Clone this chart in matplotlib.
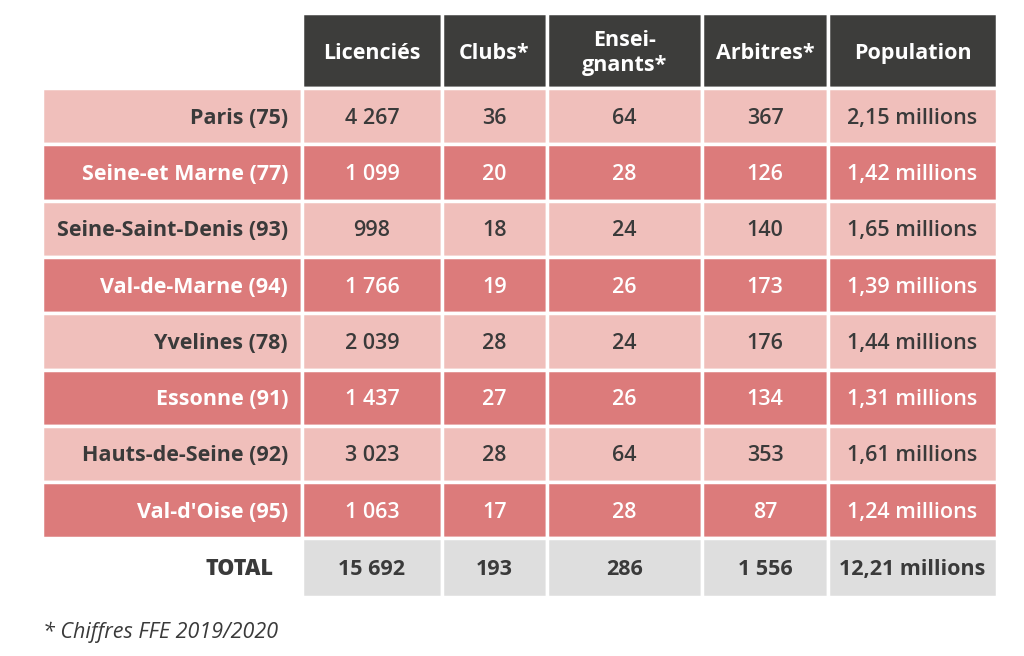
import matplotlib.pyplot as plt
from matplotlib.patches import Rectangle

plt.rcParams['font.family'] = ['Open Sans', 'DejaVu Sans']

columns = ["Licenciés", "Clubs*", "Ensei-\ngnants*", "Arbitres*", "Population"]
departements = ["Paris (75)", "Seine-et Marne (77)", "Seine-Saint-Denis (93)",
                "Val-de-Marne (94)", "Yvelines (78)", "Essonne (91)",
                "Hauts-de-Seine (92)", "Val-d'Oise (95)"]
licencies = ["4 267", "1 099", "998", "1 766", "2 039", "1 437", "3 023", "1 063"]
clubs = ["36", "20", "18", "19", "28", "27", "28", "17"]
enseignants = ["64", "28", "24", "26", "24", "26", "64", "28"]
arbitres = ["367", "126", "140", "173", "176", "134", "353", "87"]
population = ["2,15 millions", "1,42 millions", "1,65 millions", "1,39 millions",
              "1,44 millions", "1,31 millions", "1,61 millions", "1,24 millions"]
total = ["15 692", "193", "286", "1 556", "12,21 millions"]
note = "* Chiffres FFE 2019/2020"

# layout (pixels)
col_edges = [42, 302, 442, 547, 702, 828, 997]
header_top, header_bot = 13, 88
row_h = 56.3
dark, light_pink, dark_pink, grey = "#3d3d3b", "#f0bfbb", "#dc7b7b", "#dedede"
txt = "#3a3a3a"
fs = 15.5

fig = plt.figure(figsize=(10.24, 6.56), dpi=100)
ax = fig.add_axes([0, 0, 1, 1])
ax.set_xlim(0, 1024)
ax.set_ylim(656, 0)
ax.axis("off")


def cell(x0, x1, y0, y1, color):
    ax.add_patch(Rectangle((x0, y0), x1 - x0, y1 - y0, facecolor=color,
                           edgecolor="white", linewidth=2.5))


# header
for j, name in enumerate(columns):
    x0, x1 = col_edges[j + 1], col_edges[j + 2]
    cell(x0, x1, header_top, header_bot, dark)
    ax.text((x0 + x1) / 2, (header_top + header_bot) / 2 + 3, name, color="white",
            ha="center", va="center", fontsize=fs, fontweight="bold",
            linespacing=1.25)

data_cols = [licencies, clubs, enseignants, arbitres, population]
for i, dep in enumerate(departements):
    y0 = header_bot + i * row_h
    y1 = y0 + row_h
    fill = light_pink if i % 2 == 0 else dark_pink
    fc = txt if i % 2 == 0 else "white"
    cell(col_edges[0], col_edges[1], y0, y1, fill)
    ax.text(col_edges[1] - 14, (y0 + y1) / 2 + 2, dep, color=fc, ha="right",
            va="center", fontsize=fs, fontweight="bold")
    for j, vals in enumerate(data_cols):
        x0, x1 = col_edges[j + 1], col_edges[j + 2]
        cell(x0, x1, y0, y1, fill)
        ax.text((x0 + x1) / 2, (y0 + y1) / 2 + 2, vals[i], color=fc, ha="center",
                va="center", fontsize=fs, fontweight="semibold")

y0 = header_bot + len(departements) * row_h
y1 = y0 + row_h + 2
ax.text(col_edges[1] - 28, (y0 + y1) / 2 + 1, "TOTAL", color=txt, ha="right",
        va="center", fontsize=fs, fontweight="heavy")
for j, val in enumerate(total):
    x0, x1 = col_edges[j + 1], col_edges[j + 2]
    cell(x0, x1, y0, y1, grey)
    ax.text((x0 + x1) / 2, (y0 + y1) / 2 + 2, val, color=txt, ha="center",
            va="center", fontsize=fs, fontweight="bold")

ax.text(43, 632, note, color=txt, ha="left", va="center", fontsize=15.5,
        style="italic")

fig.savefig("out.png", dpi=100)
